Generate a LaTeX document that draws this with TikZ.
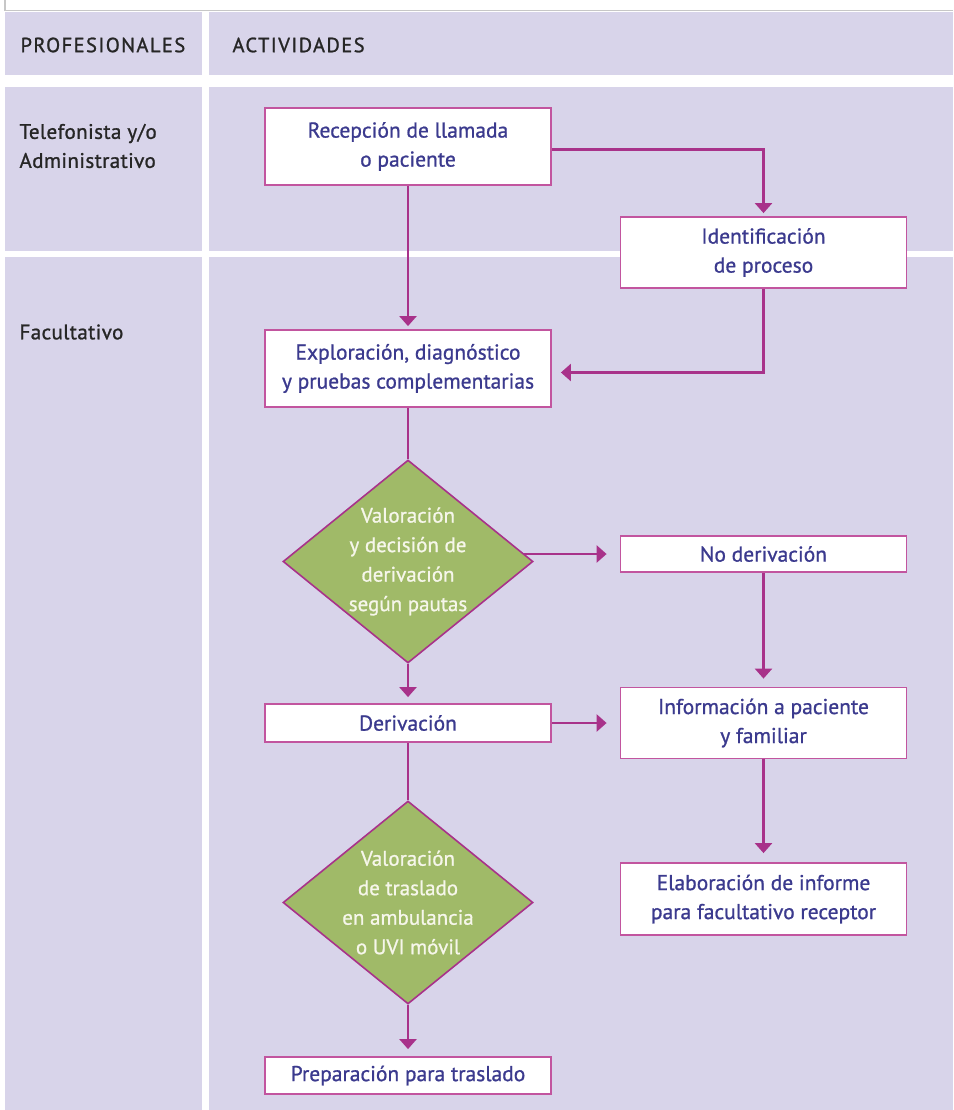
\documentclass[tikz,border=0pt]{standalone}
\usepackage{fontspec}
\setmainfont{PT Sans}
\newfontfamily\nodefont{PT Sans}[FakeBold=0.9]
\newfontfamily\headfont{PT Sans}[FakeBold=1.1,LetterSpace=7]
\usetikzlibrary{shapes.geometric,arrows.meta}
\definecolor{lane}{HTML}{D8D4EA}
\definecolor{wire}{HTML}{A8328A}
\definecolor{boxline}{HTML}{C2559F}
\definecolor{ink}{HTML}{3B3A8E}
\definecolor{dgreen}{HTML}{A0BA68}
\definecolor{dtext}{HTML}{F6F6EA}
\definecolor{hdr}{HTML}{262626}
\pgfdeclarelayer{bg}
\pgfdeclarelayer{mid}
\pgfsetlayers{bg,mid,main}
\tikzset{
  stepbox/.style={draw=boxline, line width=1.8pt, fill=white, minimum width=286pt, inner sep=0pt, align=center, text=ink, font=\nodefont\fontsize{21.5}{29}\selectfont},
  decide/.style={diamond, draw=wire, line width=1.6pt, fill=dgreen, minimum width=250pt, minimum height=203pt, inner sep=-30pt, align=center, text=dtext, font=\nodefont\fontsize{21}{29.5}\selectfont},
  flow/.style={draw=wire, line width=2.6pt, -{Triangle[length=10pt,width=17pt]}},
  plain/.style={draw=wire, line width=2.6pt},
  lanelabel/.style={anchor=west, align=left, text=hdr, font=\headfont\addfontfeatures{LetterSpace=2}\fontsize{21}{29}\selectfont},
  headlabel/.style={anchor=west, text=hdr, font=\headfont\fontsize{20.5}{22}\selectfont},
}
\begin{document}
\begin{tikzpicture}[x=1pt,y=-1pt]
\useasboundingbox (0,0) rectangle (953,1110);
\begin{pgfonlayer}{bg}
  \fill[white] (0,0) rectangle (953,1110);
  \draw[color=black!22, line width=1.5pt] (5,0) -- (5,10.5) -- (953,10.5);
  \fill[lane] (5,12) rectangle (202,75);
  \fill[lane] (209,12) rectangle (953,75);
  \fill[lane] (5,87) rectangle (202,251);
  \fill[lane] (209,87) rectangle (953,251);
  \fill[lane] (5,257) rectangle (202,1110);
  \fill[lane] (209,257) rectangle (953,1110);
\end{pgfonlayer}

\node[headlabel] (hp) at (17,45) {PROFESIONALES};
\node[headlabel] (ha) at (229,45) {ACTIVIDADES};
\node[lanelabel] (lt) at (16,146) {Telefonista y/o\\Administrativo};
\node[lanelabel] (lf) at (16,332) {Facultativo};

\node[stepbox, minimum height=77pt] (rec) at (408,146.5) {Recepción de llamada\\o paciente};
\node[stepbox, minimum height=71pt] (idf) at (763.5,252.5) {Identificación\\de proceso};
\node[stepbox, minimum height=77pt] (exp) at (408,368.5) {Exploración, diagnóstico\\y pruebas complementarias};
\node[decide] (d1) at (408,561.5) {Valoración\\y decisión de\\derivación\\según pautas};
\node[stepbox, minimum height=36pt] (nod) at (763.5,554) {No derivación};
\node[stepbox, minimum height=38pt] (der) at (408,723) {Derivación};
\node[stepbox, minimum height=71pt] (inf) at (763.5,723) {Información a paciente\\y familiar};
\node[stepbox, minimum height=72pt] (ela) at (763.5,899) {Elaboración de informe\\para facultativo receptor};
\node[decide] (d2) at (408,902.5) {Valoración\\de traslado\\en ambulancia\\o UVI móvil};
\node[stepbox, minimum height=37pt] (pre) at (408,1075.5) {Preparación para traslado};

\begin{pgfonlayer}{mid}
  \draw[flow, shorten >=3pt] (rec) -- (exp);
  \draw[flow, shorten >=3pt] ([yshift=-3pt]rec.east) -| (idf);
  \draw[flow, shorten >=9pt] (idf) |- ([yshift=-4pt]exp.east);
  \draw[plain] (exp) -- (d1);
  \draw[flow, shorten >=13pt] (d1.center |- nod.west) -- (nod.west);
  \draw[flow, shorten >=6pt] (d1) -- (der);
  \draw[flow, shorten >=8pt] (nod) -- (inf);
  \draw[flow, shorten >=13pt] (der) -- (inf);
  \draw[plain] (der) -- (d2);
  \draw[flow, shorten >=7pt] (d2) -- (pre);
  \draw[flow, shorten >=9pt] (inf) -- (ela);
\end{pgfonlayer}
\end{tikzpicture}
\end{document}
